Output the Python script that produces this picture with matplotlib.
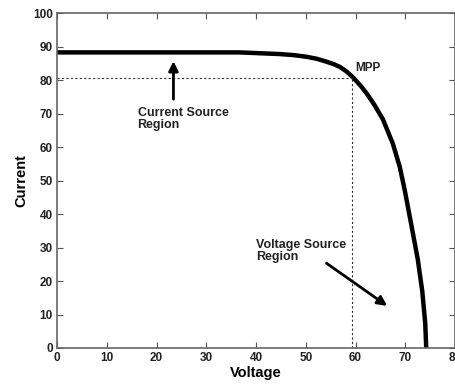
import numpy as np
import matplotlib.pyplot as plt

plt.rcParams['font.family'] = ['Liberation Sans', 'DejaVu Sans']
plt.rcParams['font.weight'] = 'bold'

# I-V curve
voltage = [0, 10, 20, 30, 36.7, 40, 44.8, 47.5, 50.1, 52.2, 54.2, 55.6, 56.8, 58.0, 58.8,
           59.5, 60.2, 61.2, 62.2, 63.8, 65.5, 67.5, 68.9, 69.9, 71.1, 72.5, 73.4, 74.0, 74.2]
current = [88.3, 88.3, 88.3, 88.3, 88.3, 88.1, 87.8, 87.5, 87.0, 86.4, 85.5, 84.8, 84.0, 82.8, 81.8,
           80.8, 79.7, 78.0, 76.1, 72.6, 68.3, 61.0, 54.0, 47.0, 37.6, 26.5, 17.0, 7.4, 0]

mpp_v = 59.3
mpp_i = 80.7

xticks = [0, 10, 20, 30, 40, 50, 60, 70, 80]
yticks = [0, 10, 20, 30, 40, 50, 60, 70, 80, 90, 100]

fig = plt.figure(figsize=(4.56, 3.87), dpi=100)
ax = fig.add_axes([0.125, 0.1008, 0.873, 0.865])

ax.plot(voltage, current, color='black', lw=3.2, solid_capstyle='butt', solid_joinstyle='round')
ax.plot([0, mpp_v], [mpp_i, mpp_i], ls=(0, (2, 2)), color='#333333', lw=0.8)
ax.plot([mpp_v, mpp_v], [0, mpp_i], ls=(0, (2, 2)), color='#333333', lw=0.8)

ax.text(60.0, 83.6, 'MPP', fontsize=8.5, color='#222222', va='center', ha='left')

ax.annotate('', xy=(23.4, 86.5), xytext=(23.4, 73.5),
            arrowprops=dict(arrowstyle='-|>', color='black', lw=2, mutation_scale=14))
ax.text(16.2, 68.3, 'Current Source\nRegion', fontsize=9, color='#222222',
        va='center', ha='left', linespacing=1.0)

ax.annotate('', xy=(66.8, 12.1), xytext=(53.7, 25.8),
            arrowprops=dict(arrowstyle='-|>', color='black', lw=2, mutation_scale=14))
ax.text(40.0, 29.0, 'Voltage Source\nRegion', fontsize=9, color='#222222',
        va='center', ha='left', linespacing=1.0)

ax.set_xlim(0, 80)
ax.set_ylim(0, 100)
ax.set_xticks(xticks)
ax.set_yticks(yticks)
ax.tick_params(direction='in', top=True, right=True, length=4, width=0.8,
               color='#555555', labelsize=8.5, labelcolor='#222222', pad=3)
for lab in ax.get_xticklabels() + ax.get_yticklabels():
    lab.set_fontweight('bold')
for s in ax.spines.values():
    s.set_color('#666666')
    s.set_linewidth(1.2)

ax.set_xlabel('Voltage', fontsize=10.5, fontweight='bold', labelpad=1)
ax.set_ylabel('Current', fontsize=10.5, fontweight='bold', labelpad=3)

fig.savefig('out.png', dpi=100)
